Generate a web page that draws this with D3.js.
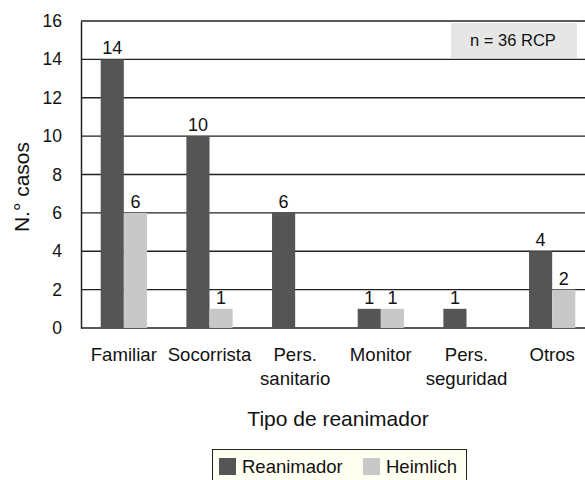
<!DOCTYPE html>
<html><head><meta charset="utf-8">
<script src="https://cdn.jsdelivr.net/npm/d3@7"></script>
<style>body{margin:0;background:#fff}svg{display:block;font-family:"Liberation Sans",Arial,sans-serif}</style>
</head><body><svg id="c" width="585" height="480"></svg>
<script>
const categories = [["Familiar"],["Socorrista"],["Pers.","sanitario"],["Monitor"],["Pers.","seguridad"],["Otros"]];
const reanimador = [14,10,6,1,1,4];
const heimlich = [6,1,0,1,0,2];
const series = ["Reanimador","Heimlich"];
const colors = ["#555555","#c8c8c8"];
const yTicks = [0,2,4,6,8,10,12,14,16];

const svg = d3.select("#c");
const x0 = 81, x1 = 595, yTop = 21, yBot = 328;
const x = d3.scaleBand().domain(d3.range(categories.length)).range([x0, x1]).paddingInner(0.46).paddingOuter(0.23);
const xs = d3.scaleBand().domain(series).range([0, x.bandwidth()]);
const y = d3.scaleLinear().domain([0,16]).range([yBot, yTop]);

// gridlines
svg.append("g").selectAll("line").data(yTicks.filter(d=>d>0)).join("line")
  .attr("x1", x0).attr("x2", 585).attr("y1", d=>y(d)).attr("y2", d=>y(d))
  .attr("stroke", "#222").attr("stroke-width", 1.3);

// n box
svg.append("rect").attr("x",451).attr("y",23).attr("width",126).attr("height",35).attr("fill","#e6e6e6");
svg.append("text").attr("x",513).attr("y",46).attr("text-anchor","middle").attr("font-size",16.5).attr("fill","#111").text("n = 36 RCP");

// y axis
const ya = d3.axisLeft(y).tickValues(yTicks).tickSize(0).tickPadding(19);
const gy = svg.append("g").attr("transform",`translate(${x0},0)`).call(ya);
gy.select(".domain").attr("stroke","#222").attr("stroke-width",1.5);
gy.selectAll("text").attr("font-size",17.5).attr("fill","#111").attr("font-family","Liberation Sans, Arial, sans-serif");
// baseline
svg.append("line").attr("x1",x0).attr("x2",585).attr("y1",yBot).attr("y2",yBot).attr("stroke","#222").attr("stroke-width",1.5);

const data = [reanimador, heimlich];
data.forEach((vals, si) => {
  const g = svg.append("g");
  g.selectAll("rect").data(vals.map((v,i)=>({v,i}))).join("rect")
    .filter(d=>d.v>0)
    .attr("x", d=>x(d.i)+xs(series[si])).attr("width", xs.bandwidth())
    .attr("y", d=>y(d.v)).attr("height", d=>yBot-y(d.v)).attr("fill", colors[si]);
  g.selectAll("text").data(vals.map((v,i)=>({v,i})).filter(d=>d.v>0)).join("text")
    .attr("x", d=>x(d.i)+xs(series[si])+xs.bandwidth()/2).attr("y", d=>y(d.v)-5)
    .attr("text-anchor","middle").attr("font-size",18).attr("fill","#111").text(d=>d.v);
});

// category labels
categories.forEach((lines, i) => {
  const t = svg.append("text").attr("text-anchor","middle").attr("font-size",18.6).attr("fill","#111")
    .attr("x", x(i)+x.bandwidth()/2).attr("y", 361);
  lines.forEach((l,k)=> t.append("tspan").attr("x", x(i)+x.bandwidth()/2).attr("dy", k===0?0:24).text(l));
});

// axis titles
svg.append("text").attr("x",(x0+x1)/2).attr("y",426).attr("text-anchor","middle").attr("font-size",21).attr("fill","#111").text("Tipo de reanimador");
svg.append("text").attr("transform","translate(29,187) rotate(-90)").attr("text-anchor","middle").attr("font-size",21).attr("fill","#111").text("N.° casos");

// legend
const lg = svg.append("g");
lg.append("rect").attr("x",212.5).attr("y",449.5).attr("width",254).attr("height",34).attr("fill","#fffff2").attr("stroke","#222").attr("stroke-width",1);
const lx = [219, 363];
series.forEach((s,i)=>{
  lg.append("rect").attr("x",lx[i]).attr("y",458).attr("width",17).attr("height",17).attr("fill",colors[i]);
  lg.append("text").attr("x",lx[i]+23).attr("y",473).attr("font-size",18.5).attr("fill","#111").text(s);
});
</script></body></html>
